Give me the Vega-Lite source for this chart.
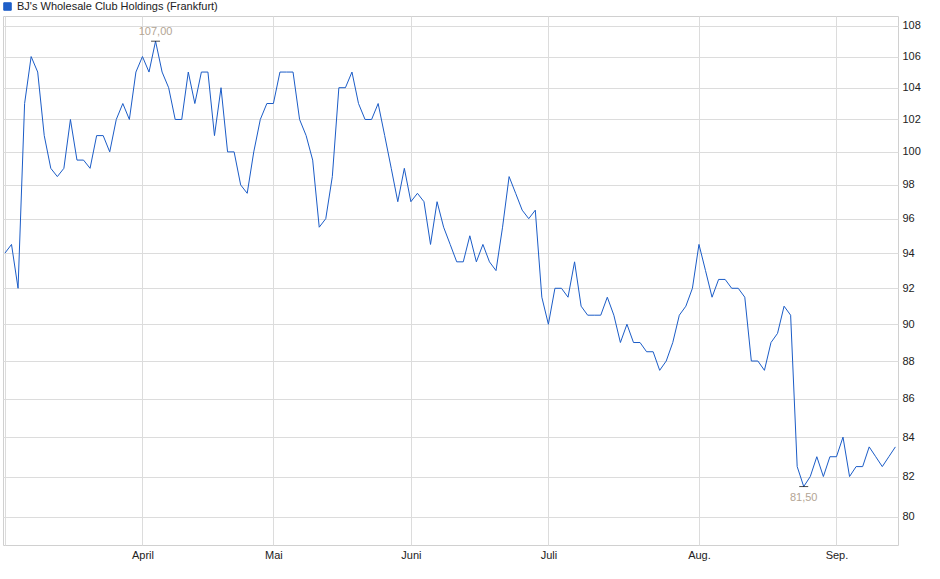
{
  "$schema": "https://vega.github.io/schema/vega-lite/v6.json",
  "width": 895,
  "height": 529,
  "autosize": {"type": "none"},
  "padding": {"left": 3, "top": 16, "right": 42, "bottom": 34},
  "background": "#ffffff",
  "config": {
    "view": {"stroke": "#d0d0d0", "strokeWidth": 1},
    "font": "Liberation Sans",
    "axis": {"labelFont": "Liberation Sans", "labelFontSize": 11, "labelColor": "#222222", "gridColor": "#dcdcdc", "gridWidth": 1, "domain": false, "ticks": false}
  },
  "datasets": {
    "prices": [
      {"i":0,"v":94},{"i":1,"v":94.5},{"i":2,"v":92},{"i":3,"v":103},{"i":4,"v":106},{"i":5,"v":105},{"i":6,"v":101},{"i":7,"v":99},{"i":8,"v":98.5},{"i":9,"v":99},
      {"i":10,"v":102},{"i":11,"v":99.5},{"i":12,"v":99.5},{"i":13,"v":99},{"i":14,"v":101},{"i":15,"v":101},{"i":16,"v":100},{"i":17,"v":102},{"i":18,"v":103},{"i":19,"v":102},
      {"i":20,"v":105},{"i":21,"v":106},{"i":22,"v":105},{"i":23,"v":107},{"i":24,"v":105},{"i":25,"v":104},{"i":26,"v":102},{"i":27,"v":102},{"i":28,"v":105},{"i":29,"v":103},
      {"i":30,"v":105},{"i":31,"v":105},{"i":32,"v":101},{"i":33,"v":104},{"i":34,"v":100},{"i":35,"v":100},{"i":36,"v":98},{"i":37,"v":97.5},{"i":38,"v":100},{"i":39,"v":102},
      {"i":40,"v":103},{"i":41,"v":103},{"i":42,"v":105},{"i":43,"v":105},{"i":44,"v":105},{"i":45,"v":102},{"i":46,"v":101},{"i":47,"v":99.5},{"i":48,"v":95.5},{"i":49,"v":96},
      {"i":50,"v":98.5},{"i":51,"v":104},{"i":52,"v":104},{"i":53,"v":105},{"i":54,"v":103},{"i":55,"v":102},{"i":56,"v":102},{"i":57,"v":103},{"i":58,"v":101},{"i":59,"v":99},
      {"i":60,"v":97},{"i":61,"v":99},{"i":62,"v":97},{"i":63,"v":97.5},{"i":64,"v":97},{"i":65,"v":94.5},{"i":66,"v":97},{"i":67,"v":95.5},{"i":68,"v":94.5},{"i":69,"v":93.5},
      {"i":70,"v":93.5},{"i":71,"v":95},{"i":72,"v":93.5},{"i":73,"v":94.5},{"i":74,"v":93.5},{"i":75,"v":93},{"i":76,"v":95.5},{"i":77,"v":98.5},{"i":78,"v":97.5},{"i":79,"v":96.5},
      {"i":80,"v":96},{"i":81,"v":96.5},{"i":82,"v":91.5},{"i":83,"v":90},{"i":84,"v":92},{"i":85,"v":92},{"i":86,"v":91.5},{"i":87,"v":93.5},{"i":88,"v":91},{"i":89,"v":90.5},
      {"i":90,"v":90.5},{"i":91,"v":90.5},{"i":92,"v":91.5},{"i":93,"v":90.5},{"i":94,"v":89},{"i":95,"v":90},{"i":96,"v":89},{"i":97,"v":89},{"i":98,"v":88.5},{"i":99,"v":88.5},
      {"i":100,"v":87.5},{"i":101,"v":88},{"i":102,"v":89},{"i":103,"v":90.5},{"i":104,"v":91},{"i":105,"v":92},{"i":106,"v":94.5},{"i":107,"v":93},{"i":108,"v":91.5},{"i":109,"v":92.5},
      {"i":110,"v":92.5},{"i":111,"v":92},{"i":112,"v":92},{"i":113,"v":91.5},{"i":114,"v":88},{"i":115,"v":88},{"i":116,"v":87.5},{"i":117,"v":89},{"i":118,"v":89.5},{"i":119,"v":91},
      {"i":120,"v":90.5},{"i":121,"v":82.5},{"i":122,"v":81.5},{"i":123,"v":82},{"i":124,"v":83},{"i":125,"v":82},{"i":126,"v":83},{"i":127,"v":83},{"i":128,"v":84},{"i":129,"v":82},
      {"i":130,"v":82.5},{"i":131,"v":82.5},{"i":132,"v":83.5},{"i":133,"v":83},{"i":134,"v":82.5},{"i":135,"v":83},{"i":136,"v":83.5}
    ],
    "extremes": [
      {"i":23,"v":107,"label":"107,00","kind":"max"},
      {"i":122,"v":81.5,"label":"81,50","kind":"min"}
    ]
  },
  "encoding": {
    "x": {
      "field": "i", "type": "quantitative",
      "scale": {"domain": [-0.3, 136.4], "nice": false, "zero": false},
      "axis": {
        "title": null, "orient": "bottom",
        "values": [0, 21, 41, 62, 83, 106, 127],
        "labelExpr": "datum.value == 21 ? 'April' : datum.value == 41 ? 'Mai' : datum.value == 62 ? 'Juni' : datum.value == 83 ? 'Juli' : datum.value == 106 ? 'Aug.' : datum.value == 127 ? 'Sep.' : ''",
        "labelPadding": 4, "labelFlush": false, "labelOverlap": false
      }
    },
    "y": {
      "field": "v", "type": "quantitative",
      "scale": {"type": "log", "domain": [78.64, 108.66], "nice": false, "zero": false},
      "axis": {
        "title": null, "orient": "right",
        "values": [80, 82, 84, 86, 88, 90, 92, 94, 96, 98, 100, 102, 104, 106, 108],
        "format": "d", "labelPadding": 4, "labelFlush": false, "labelOverlap": false
      }
    }
  },
  "layer": [
    {
      "data": {"name": "prices"},
      "mark": {"type": "line", "strokeWidth": 1, "interpolate": "linear"},
      "encoding": {
        "color": {
          "datum": "BJ's Wholesale Club Holdings (Frankfurt)",
          "type": "nominal",
          "scale": {"range": ["#1b5cc7"]},
          "legend": {
            "title": null, "orient": "none", "legendX": -1, "legendY": -15,
            "symbolType": "square", "symbolSize": 56, "symbolFillColor": "#1f5fc9", "symbolStrokeColor": "#14306a", "symbolStrokeWidth": 1,
            "labelFont": "Liberation Sans", "labelFontSize": 11, "labelColor": "#222222", "labelOffset": 4, "labelLimit": 0, "padding": 0, "symbolOffset": 0
          }
        }
      }
    },
    {
      "data": {"name": "extremes"},
      "mark": {"type": "tick", "orient": "horizontal", "size": 9, "thickness": 1, "color": "#000000"}
    },
    {
      "data": {"name": "extremes"},
      "transform": [{"filter": "datum.kind == 'max'"}],
      "mark": {"type": "text", "dy": -9, "baseline": "middle", "align": "center", "font": "Liberation Sans", "fontSize": 11, "color": "#b3a594"},
      "encoding": {"text": {"field": "label"}}
    },
    {
      "data": {"name": "extremes"},
      "transform": [{"filter": "datum.kind == 'min'"}],
      "mark": {"type": "text", "dy": 11, "baseline": "middle", "align": "center", "font": "Liberation Sans", "fontSize": 11, "color": "#b3a594"},
      "encoding": {"text": {"field": "label"}}
    }
  ]
}
